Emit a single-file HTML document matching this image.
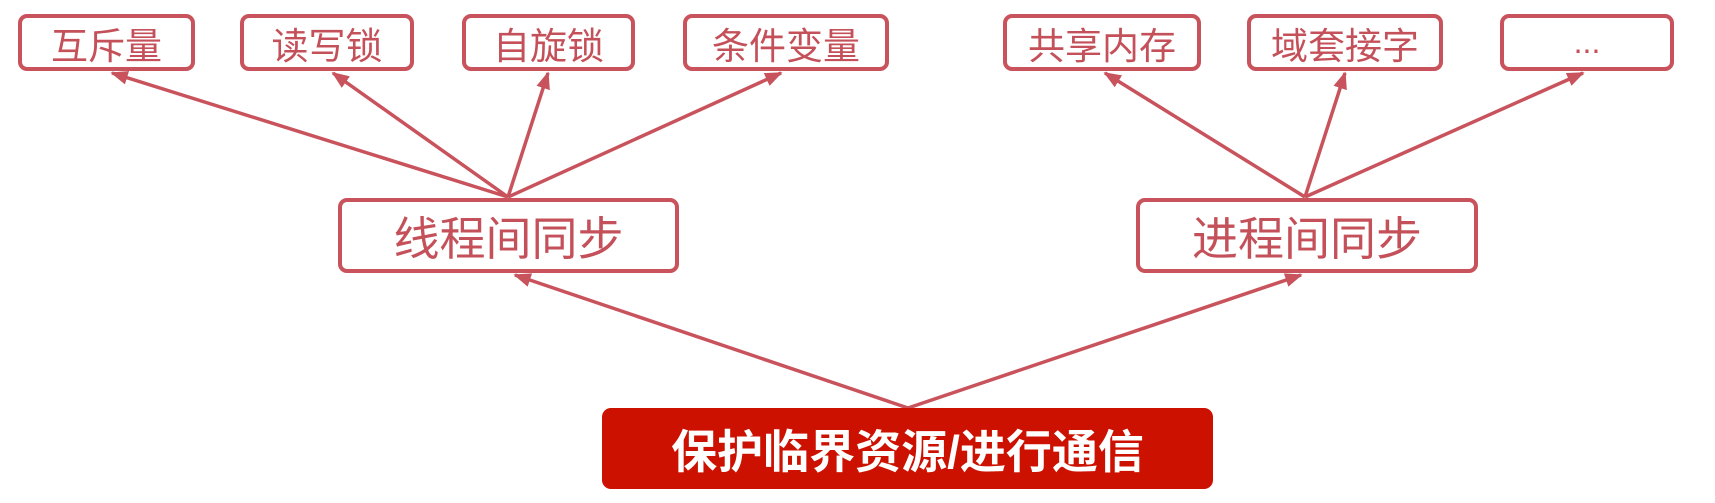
<!DOCTYPE html>
<html><head><meta charset="utf-8"><style>
html,body{margin:0;padding:0;background:#fff;}
body{width:1715px;height:503px;position:relative;overflow:hidden;font-family:"Liberation Sans","Noto Sans CJK SC",sans-serif;}
.b{position:absolute;box-sizing:border-box;border:4px solid #c9535c;border-radius:9px;background:#fff;color:#c4505a;display:flex;align-items:center;justify-content:center;}
.s{font-size:37px;top:14px;height:57px;}
.m{font-size:46px;top:198px;height:75px;}
.r{position:absolute;left:602px;top:408px;width:611px;height:81px;background:#cc1100;border-radius:9px;color:#fff;font-weight:bold;font-size:46px;display:flex;align-items:center;justify-content:center;}
svg{position:absolute;left:0;top:0;}
</style></head><body>
<svg width="1715" height="503">
<defs><marker id="a" markerWidth="5" markerHeight="4" refX="4.5" refY="2" orient="auto" markerUnits="strokeWidth"><path d="M0,0 L5,2 L0,4 z" fill="#c9535c"/></marker></defs>
<g stroke="#c9535c" stroke-width="3.5" fill="none" marker-end="url(#a)">
<line x1="508" y1="197" x2="112" y2="73"/>
<line x1="508" y1="197" x2="333" y2="73"/>
<line x1="508" y1="197" x2="548" y2="73"/>
<line x1="508" y1="197" x2="781" y2="73"/>
<line x1="1305" y1="197" x2="1105" y2="73"/>
<line x1="1305" y1="197" x2="1345" y2="73"/>
<line x1="1305" y1="197" x2="1583" y2="73"/>
<line x1="908" y1="408" x2="515" y2="275"/>
<line x1="908" y1="408" x2="1301" y2="275"/>
</g>
</svg>
<div class="b s" style="left:18px;width:177px;">互斥量</div>
<div class="b s" style="left:240px;width:174px;">读写锁</div>
<div class="b s" style="left:462px;width:173px;">自旋锁</div>
<div class="b s" style="left:683px;width:206px;">条件变量</div>
<div class="b s" style="left:1003px;width:198px;">共享内存</div>
<div class="b s" style="left:1247px;width:196px;">域套接字</div>
<div class="b s" style="left:1500px;width:174px;font-size:32px;">...</div>
<div class="b m" style="left:338px;width:341px;">线程间同步</div>
<div class="b m" style="left:1136px;width:342px;">进程间同步</div>
<div class="r">保护临界资源/进行通信</div>
</body></html>
